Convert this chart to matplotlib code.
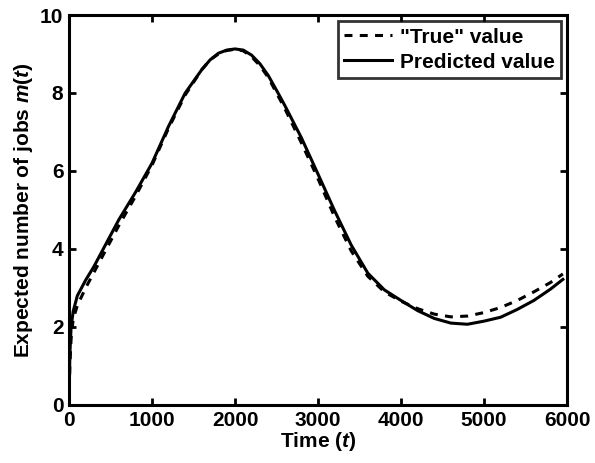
import numpy as np
import matplotlib
matplotlib.use('Agg')
import matplotlib.pyplot as plt

# time grid
t = [0, 10, 25, 50, 100, 200, 300, 400, 600, 800, 1000, 1200, 1400, 1600,
     1700, 1800, 1900, 2000, 2100, 2200, 2300, 2400, 2500, 2600, 2800,
     3000, 3200, 3400, 3600, 3800, 4000, 4200, 4400, 4600, 4800, 5000,
     5200, 5400, 5600, 5800, 5950]

m_true = [0, 1.0, 1.7, 2.2, 2.55, 3.0, 3.4, 3.8, 4.6, 5.35, 6.15, 7.1, 7.95,
          8.6, 8.85, 9.0, 9.09, 9.12, 9.08, 8.93, 8.7, 8.4, 8.0, 7.6, 6.72,
          5.8, 4.82, 3.95, 3.3, 2.9, 2.66, 2.47, 2.33, 2.26, 2.28, 2.37,
          2.5, 2.68, 2.9, 3.14, 3.36]

m_pred = [0, 1.3, 2.0, 2.4, 2.8, 3.2, 3.55, 3.95, 4.75, 5.45, 6.2, 7.15,
          8.0, 8.6, 8.85, 9.02, 9.1, 9.13, 9.1, 8.97, 8.75, 8.45, 8.07,
          7.68, 6.85, 5.92, 4.98, 4.1, 3.38, 2.95, 2.68, 2.42, 2.22, 2.1,
          2.07, 2.15, 2.25, 2.45, 2.68, 2.97, 3.22]

plt.rcParams['font.family'] = 'Liberation Sans'
plt.rcParams['font.weight'] = 'bold'
plt.rcParams['mathtext.fontset'] = 'custom'
plt.rcParams['mathtext.rm'] = 'Liberation Sans:bold'
plt.rcParams['mathtext.it'] = 'Liberation Sans:italic:bold'
plt.rcParams['mathtext.bf'] = 'Liberation Sans:bold'


def main():
    fig = plt.figure(figsize=(5.95, 4.63), dpi=100)
    ax = fig.add_axes([0.116, 0.1253, 0.837, 0.8423])

    ax.plot(t, m_true, 'k--', lw=2.2, dashes=(2.6, 2.4), label='"True" value')
    ax.plot(t, m_pred, 'k-', lw=2.2, label='Predicted value')

    ax.set_xlim(0, 6000)
    ax.set_ylim(0, 10)
    ax.set_xticks(np.arange(0, 6001, 1000))
    ax.set_yticks(np.arange(0, 11, 2))
    ax.tick_params(direction='in', top=True, right=True, width=2,
                   length=5, labelsize=15, pad=4)
    for s in ax.spines.values():
        s.set_linewidth(2.2)

    ax.set_xlabel(r'Time ($t$)', fontsize=15, fontweight='bold', labelpad=0)
    ax.set_ylabel(r'Expected number of jobs $m(t)$', fontsize=15,
                  fontweight='bold', labelpad=4)

    leg = ax.legend(loc='upper right', fontsize=15, frameon=True,
                    fancybox=False, borderaxespad=0.3, handlelength=2.3,
                    handletextpad=0.35, borderpad=0.3, labelspacing=0.3)
    leg.get_frame().set_edgecolor('k')
    leg.get_frame().set_linewidth(2)

    fig.savefig('out.png', dpi=100)


if __name__ == '__main__':
    main()
